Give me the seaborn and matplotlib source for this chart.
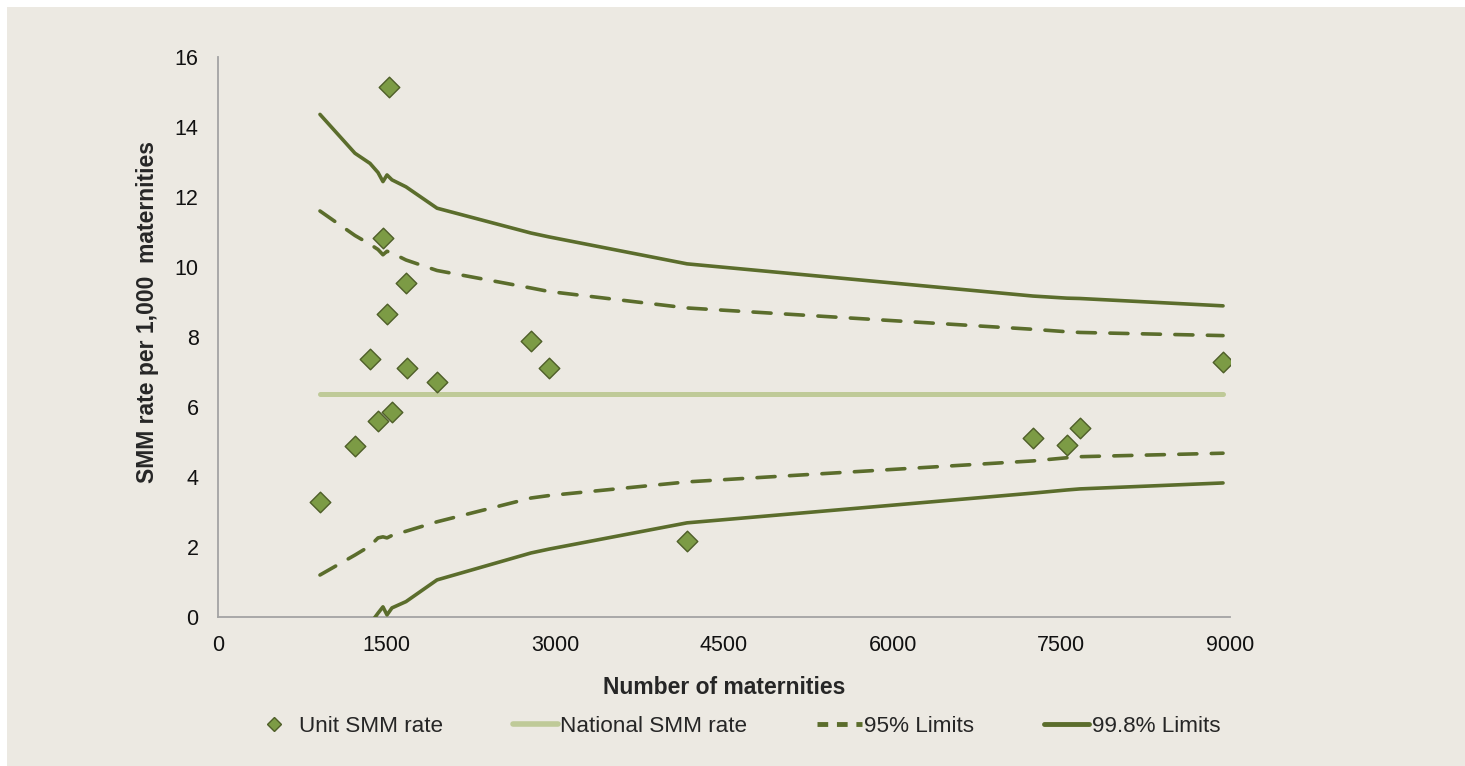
import numpy as np
import pandas as pd
import seaborn as sns
import matplotlib.pyplot as plt
from matplotlib.patches import Rectangle
from matplotlib.lines import Line2D

# ---- data ----
maternities = [907, 1218, 1352, 1423, 1467, 1503, 1521, 1547, 1672, 1681,
               1948, 2784, 2944, 4171, 7248, 7550, 7666, 8938]
unit_rate = [3.29, 4.89, 7.37, 5.60, 10.83, 8.66, 15.14, 5.86, 9.54, 7.11,
             6.71, 7.89, 7.11, 2.17, 5.11, 4.91, 5.40, 7.29]

# limits at the same unit sizes
limit_n = [907, 1218, 1352, 1423, 1467, 1503, 1547, 1672, 1948,
           2784, 2944, 4171, 7248, 7550, 7666, 8938]
national = [6.37] * len(limit_n)
upper_95 = [11.60, 10.90, 10.65, 10.50, 10.35, 10.45, 10.40, 10.20, 9.90,
            9.40, 9.30, 8.83, 8.22, 8.15, 8.13, 8.04]
lower_95 = [1.20, 1.77, 2.03, 2.26, 2.29, 2.26, 2.33, 2.45, 2.72,
            3.40, 3.47, 3.86, 4.46, 4.55, 4.58, 4.68]
upper_998 = [14.36, 13.25, 12.96, 12.70, 12.44, 12.63, 12.49, 12.29, 11.68,
             10.97, 10.86, 10.09, 9.17, 9.11, 9.10, 8.89]
lower_998 = [-2.5, -1.0, -0.2, 0.11, 0.29, 0.06, 0.26, 0.44, 1.06,
             1.83, 1.94, 2.69, 3.54, 3.63, 3.66, 3.83]

x_ticks = [0, 1500, 3000, 4500, 6000, 7500, 9000]
y_ticks = [0, 2, 4, 6, 8, 10, 12, 14, 16]

units = pd.DataFrame({"n": maternities, "rate": unit_rate})
limits = pd.DataFrame({"n": limit_n, "national": national,
                       "u95": upper_95, "l95": lower_95,
                       "u998": upper_998, "l998": lower_998})

bg = "#ECE9E2"
dark = "#5B6D2C"
light = "#BFCA98"

sns.set_theme(style="white")
plt.rcParams["font.family"] = ["Liberation Sans", "DejaVu Sans"]

fig = plt.figure(figsize=(14.65, 7.66), dpi=100)
fig.patch.set_facecolor("white")
fig.patches.append(Rectangle((7 / 1465, 0), 1, 1 - 7 / 766, transform=fig.transFigure,
                             facecolor=bg, edgecolor="none", zorder=-10))
ax = fig.add_axes([218 / 1465, 1 - 617 / 766, (1230 - 218) / 1465, (617 - 57) / 766])
ax.set_facecolor(bg)

sns.lineplot(data=limits, x="n", y="national", ax=ax, color=light, lw=3.6,
             solid_capstyle="round", zorder=2)
for col in ["u95", "l95"]:
    sns.lineplot(data=limits, x="n", y=col, ax=ax, color=dark, lw=2.6, zorder=3)
    ax.lines[-1].set_dashes([5.0, 4.0])
    ax.lines[-1].set_dash_capstyle("round")
for col in ["u998", "l998"]:
    sns.lineplot(data=limits, x="n", y=col, ax=ax, color=dark, lw=2.6, zorder=3)
sns.scatterplot(data=units, x="n", y="rate", ax=ax, marker="D", s=110,
                color="#7C9B45", edgecolor="#4E5E28", linewidth=1.0, zorder=4)

ax.set_xlim(0, 9000)
ax.set_ylim(0, 16)
ax.set_xticks(x_ticks)
ax.set_yticks(y_ticks)
ax.tick_params(axis="both", length=0, labelsize=15.5, colors="#111111")
ax.tick_params(axis="x", pad=13)
ax.tick_params(axis="y", pad=14)
for side in ["top", "right"]:
    ax.spines[side].set_visible(False)
for side in ["left", "bottom"]:
    ax.spines[side].set_color("#A3A3A3")
    ax.spines[side].set_linewidth(1.3)

ax.set_xlabel("Number of maternities", fontsize=16.5, fontweight="bold", labelpad=14)
ax.set_ylabel("SMM rate per 1,000  maternities", fontsize=16.5, fontweight="bold")
ax.yaxis.set_label_coords(-0.058, 0.545)

handles = [
    Line2D([], [], ls="none", marker="D", ms=7, color="#7C9B45", mec="#4E5E28"),
    Line2D([], [], color=light, lw=4),
    Line2D([], [], color=dark, lw=3.5, dashes=[2.2, 1.8]),
    Line2D([], [], color=dark, lw=3.5),
]
labels = ["Unit SMM rate", "National SMM rate", "95% Limits", "99.8% Limits"]
fig.legend(handles, labels, loc="center", bbox_to_anchor=(736 / 1465, 1 - 726 / 766),
           ncol=4, frameon=False, fontsize=16.2, handlelength=2.0,
           handletextpad=0.1, columnspacing=3.1)

fig.savefig("out.png", dpi=100, facecolor=fig.get_facecolor())
